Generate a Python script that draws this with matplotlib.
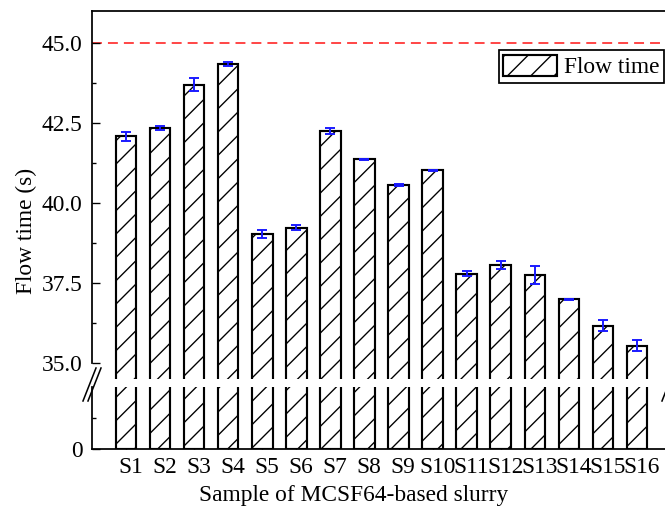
import matplotlib
matplotlib.use('Agg')
import matplotlib.pyplot as plt
from matplotlib.lines import Line2D
from matplotlib.ticker import MultipleLocator, FormatStrFormatter, FixedLocator
import matplotlib.transforms as mtransforms
import numpy as np

samples = ['S1', 'S2', 'S3', 'S4', 'S5', 'S6', 'S7', 'S8', 'S9', 'S10',
           'S11', 'S12', 'S13', 'S14', 'S15', 'S16']
flow_time = [42.08, 42.35, 43.70, 44.35, 39.03, 39.23, 42.24, 41.36, 40.56, 41.02,
             37.79, 38.07, 37.75, 36.99, 36.17, 35.54]
flow_err = [0.14, 0.07, 0.21, 0.06, 0.12, 0.08, 0.09, 0.02, 0.02, 0.02,
            0.07, 0.13, 0.29, 0.02, 0.17, 0.18]
limit_value = 45.0
upper_ticks = [35.0, 37.5, 40.0, 42.5, 45.0]

DPI = 140
W, H = 665, 511
plt.rcParams['font.family'] = ['Liberation Serif', 'DejaVu Serif']
plt.rcParams['hatch.linewidth'] = 0.7
plt.rcParams['font.size'] = 12

fig = plt.figure(figsize=(W / DPI, H / DPI), dpi=DPI)


def fx(px):
    return px / W


def fy(py):
    return 1 - py / H


left = fx(92)
right = fx(671)
ax_top = fig.add_axes([left, fy(379), right - left, fy(11) - fy(379)])
ax_bot = fig.add_axes([left, fy(449), right - left, fy(386.7) - fy(449)])

x = np.arange(1, len(samples) + 1)
for i, ax in enumerate((ax_top, ax_bot)):
    ax.bar(x, flow_time, width=0.6, facecolor='white', edgecolor='black',
           linewidth=1.1, hatch='//', label='Flow time' if i == 0 else None, zorder=2)
    ax.set_xlim(0, 17)
    for s in ax.spines.values():
        s.set_linewidth(0.9)

ax_top.errorbar(x, flow_time, yerr=flow_err, fmt='none', ecolor='#1a1aff',
                elinewidth=1.0, capsize=2.6, capthick=1.0, zorder=3)
ax_top.axhline(limit_value, color='#ff4545', lw=1.0, dashes=(5.1, 3.1), zorder=1)

ax_top.set_ylim(34.5, 46)
ax_top.yaxis.set_major_locator(FixedLocator(upper_ticks))
ax_top.yaxis.set_major_formatter(FormatStrFormatter('%.1f'))
ax_top.yaxis.set_minor_locator(MultipleLocator(1.25))
ax_top.spines['bottom'].set_visible(False)
ax_top.spines['left'].set_bounds(35, 46)
ax_top.spines['right'].set_bounds(35, 46)
ax_top.tick_params(axis='x', which='both', bottom=False, labelbottom=False)
ax_top.tick_params(axis='y', which='major', direction='in', length=4.1, width=0.7, pad=5, labelsize=12)
ax_top.tick_params(axis='y', which='minor', direction='in', length=2.3, width=0.7)

ax_bot.set_ylim(0, 2)
ax_bot.yaxis.set_major_locator(FixedLocator([0]))
ax_bot.yaxis.set_major_formatter(FormatStrFormatter('%d'))
ax_bot.yaxis.set_minor_locator(FixedLocator([1]))
ax_bot.spines['top'].set_visible(False)
ax_bot.set_xticks(x)
ax_bot.set_xticklabels(samples)
ax_bot.tick_params(axis='x', which='major', direction='in', length=4.1, width=0.7, pad=4, labelsize=12)
ax_bot.tick_params(axis='y', which='major', direction='in', length=4.1, width=0.7, pad=5, labelsize=12)
ax_bot.tick_params(axis='y', which='minor', direction='in', length=2.3, width=0.7)
shift = mtransforms.ScaledTranslation(4.5 / DPI, 0, fig.dpi_scale_trans)
for lab in ax_bot.get_xticklabels():
    lab.set_transform(lab.get_transform() + shift)

# break marks
for cx in (92, 671):
    for off in (-2.5, 2.5):
        fig.add_artist(Line2D([fx(cx - 6.5 + off), fx(cx + 6.5 + off)], [fy(401), fy(368)],
                              color='black', lw=0.8))

leg = ax_top.legend(loc='upper right', bbox_to_anchor=(fx(664), fy(50)),
                    bbox_transform=fig.transFigure, frameon=True, fancybox=False,
                    edgecolor='black', framealpha=1, fontsize=12, borderpad=0.2,
                    borderaxespad=0, handlelength=2.3, handleheight=1.05,
                    handletextpad=0.3)
leg.get_frame().set_linewidth(0.9)

fig.text(fx(26), fy(231), 'Flow time (s)', rotation=90, ha='center', va='center', fontsize=12)
fig.text(fx(354), fy(496), 'Sample of MCSF64-based slurry', ha='center', va='center', fontsize=12)

fig.savefig('out.png', dpi=DPI)
